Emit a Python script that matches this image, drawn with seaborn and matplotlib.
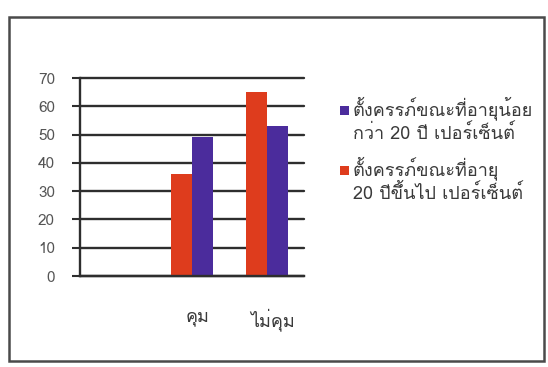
import numpy as np
import pandas as pd
import matplotlib
matplotlib.use("Agg")
import matplotlib.pyplot as plt
import matplotlib.transforms as mtransforms
from matplotlib import font_manager as fm
from matplotlib.patches import Rectangle
import seaborn as sns

# --- data ---------------------------------------------------------------
categories = ["", "คุม", "ไม่คุม"]
series_names = ["ตั้งครรภ์ขณะที่อายุ\n20 ปีขึ้นไป เปอร์เซ็นต์",
                "ตั้งครรภ์ขณะที่อายุน้อย\nกว่า 20 ปี เปอร์เซ็นต์"]
age_20_plus = [np.nan, 36, 65]
age_under_20 = [np.nan, 49, 53]
y_ticks = [0, 10, 20, 30, 40, 50, 60, 70]

colors = ["#de3c1d", "#4b2c9c"]
TEXT = "#3a3a3a"
W, H = 548, 367


def find_thai_font():
    """Return the name of an installed font that covers the Thai block."""
    try:
        from fontTools.ttLib import TTFont
    except Exception:
        return "DejaVu Sans"
    paths = sorted({f.fname for f in fm.fontManager.ttflist})
    for path in paths:
        try:
            tt = TTFont(path, fontNumber=0, lazy=True)
            cmap = tt.getBestCmap() or {}
            if all(cp in cmap for cp in (0x0E04, 0x0E38, 0x0E21, 0x0E31, 0x0E49)):
                return fm.FontProperties(fname=path).get_name()
        except Exception:
            continue
    return "DejaVu Sans"


sns.set_theme(style="white")
thai = find_thai_font()
plt.rcParams["font.family"] = [thai, "DejaVu Sans"]

rows = []
for cat, a, b in zip(categories, age_20_plus, age_under_20):
    rows.append({"cat": cat, "series": series_names[0], "value": a})
    rows.append({"cat": cat, "series": series_names[1], "value": b})
df = pd.DataFrame(rows)

fig = plt.figure(figsize=(W / 100, H / 100), dpi=100)
fig.patch.set_facecolor("white")


def fx(px):
    return px / W


def fy(py):
    return 1 - py / H


# outer chart frame
fig.add_artist(Rectangle((fx(9), fy(361)), fx(544) - fx(9), fy(17) - fy(361),
                         transform=fig.transFigure, fill=False,
                         edgecolor="#4a4a4a", linewidth=1.8))

ax = fig.add_axes([fx(80), fy(276), fx(304) - fx(80), fy(78) - fy(276)])
sns.barplot(data=df, x="cat", y="value", hue="series", order=categories,
            hue_order=series_names, palette=colors, width=0.56,
            saturation=1, legend=False, ax=ax, errorbar=None,
            linewidth=0, edgecolor="none")

ax.set_ylim(0, 70)
ax.set_yticks(y_ticks)
ax.set_xlim(-0.5, 2.5)
ax.yaxis.grid(True, color="#2e2e2e", linewidth=1.7)
for gl in ax.get_ygridlines():
    gl.set_clip_on(False)
ax.set_axisbelow(True)
for s in ("top", "right"):
    ax.spines[s].set_visible(False)
for s in ("left", "bottom"):
    ax.spines[s].set_color("#2e2e2e")
    ax.spines[s].set_linewidth(1.7)
ax.tick_params(axis="y", which="major", left=True, length=6, width=1.5,
               color="#2e2e2e", labelsize=11, labelcolor="#555555", pad=12)
ax.tick_params(axis="x", bottom=False, labelsize=13, labelcolor=TEXT,
               pad=17)
ax.set_xlabel("")
ax.set_ylabel("")

# nudge category labels slightly to the right
nudge = mtransforms.ScaledTranslation(6 / 100, 0, fig.dpi_scale_trans)
for lbl in ax.get_xticklabels():
    lbl.set_transform(lbl.get_transform() + nudge)

# legend, listed with the under-20 series first
legend_entries = [(colors[1], series_names[1], 106),
                  (colors[0], series_names[0], 166)]
for color, label, top in legend_entries:
    fig.add_artist(Rectangle((fx(340), fy(top + 9)), fx(9), fy(0) - fy(9),
                             transform=fig.transFigure, facecolor=color,
                             edgecolor="none"))
    for i, line in enumerate(label.split("\n")):
        fig.text(fx(353), fy(top + 9 + i * 24), line, fontsize=13,
                 color=TEXT, ha="left", va="baseline")

fig.savefig("out.png", dpi=100, facecolor="white")
